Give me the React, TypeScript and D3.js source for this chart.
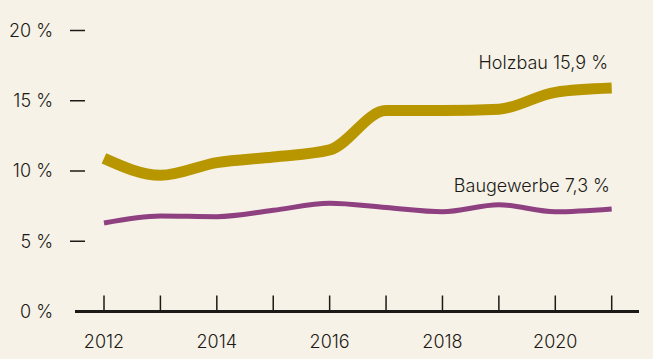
import React from "react";
import * as d3 from "d3";

const years = [2012, 2013, 2014, 2015, 2016, 2017, 2018, 2019, 2020, 2021];
const holzbau = [10.9, 9.7, 10.6, 11.0, 11.5, 14.3, 14.3, 14.4, 15.6, 15.9];
const baugewerbe = [6.3, 6.8, 6.75, 7.2, 7.7, 7.4, 7.1, 7.6, 7.1, 7.3];
const yTicks = [0, 5, 10, 15, 20];
const xLabelYears = [2012, 2014, 2016, 2018, 2020];
const seriesLabels = ["Holzbau 15,9 %", "Baugewerbe 7,3 %"];

const W = 653;
const H = 359;
const BG = "#f6f2e7";
const GOLD = "#b89600";
const PURPLE = "#8e4080";
const INK = "#1c1a16";
const FONT = "Inter, 'Noto Sans', sans-serif";
const FS = 18;

export default function App() {
  const x = d3.scaleLinear().domain([2012, 2021]).range([104, 611.7]);
  const y = d3.scaleLinear().domain([0, 20]).range([311.5, 30.5]);
  const line = d3
    .line<number>()
    .x((_, i) => x(years[i]))
    .y((d) => y(d))
    .curve(d3.curveMonotoneX);

  return (
    <svg
      width={W}
      height={H}
      style={{ position: "absolute", left: 0, top: 0, background: BG }}
      fontFamily={FONT}
      fontWeight={300}
    >
      <rect width={W} height={H} fill={BG} />
      {yTicks.map((t) => (
        <g key={t}>
          <text
            x={53}
            y={y(t)}
            dy="0.36em"
            textAnchor="end"
            fontSize={FS}
            fill={INK}
          >
            {t} %
          </text>
          {t > 0 && (
            <line x1={70} x2={85} y1={y(t)} y2={y(t)} stroke={INK} strokeWidth={1.5} />
          )}
        </g>
      ))}
      {years.map((yr) => (
        <line
          key={yr}
          x1={x(yr)}
          x2={x(yr)}
          y1={y(0)}
          y2={y(0) - 16}
          stroke={INK}
          strokeWidth={1.5}
        />
      ))}
      <line x1={75} x2={639} y1={y(0)} y2={y(0)} stroke={INK} strokeWidth={3} />
      {xLabelYears.map((yr) => (
        <text
          key={yr}
          x={x(yr)}
          y={348}
          textAnchor="middle"
          fontSize={FS}
          fill={INK}
        >
          {yr}
        </text>
      ))}
      <path d={line(baugewerbe) || ""} fill="none" stroke={PURPLE} strokeWidth={5} />
      <path d={line(holzbau) || ""} fill="none" stroke={GOLD} strokeWidth={11} />
      <text x={608} y={69} textAnchor="end" fontSize={FS} fill={INK}>
        {seriesLabels[0]}
      </text>
      <text x={610} y={192} textAnchor="end" fontSize={FS} fill={INK}>
        {seriesLabels[1]}
      </text>
    </svg>
  );
}
